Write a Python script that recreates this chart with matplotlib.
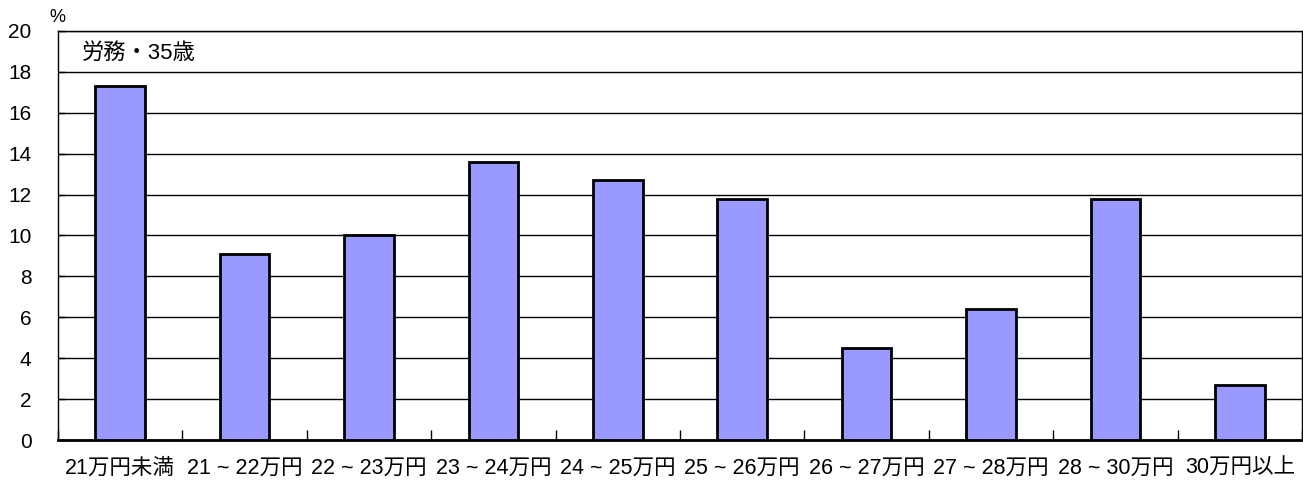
import matplotlib.pyplot as plt
import numpy as np

plt.rcParams['font.family'] = ['Liberation Sans', 'Noto Sans CJK JP', 'DejaVu Sans']

# 賃金階級別の割合（%）
categories = ['21万円未満', '21～22万円', '22～23万円', '23～24万円', '24～25万円',
              '25～26万円', '26～27万円', '27～28万円', '28～30万円', '30万円以上']
shares = [17.3, 9.1, 10.0, 13.6, 12.7, 11.8, 4.5, 6.4, 11.8, 2.7]
yticks = [0, 2, 4, 6, 8, 10, 12, 14, 16, 18, 20]

fig = plt.figure(figsize=(13.03, 4.82), dpi=100)
ax = fig.add_axes([58 / 1303, 42 / 482, 1244 / 1303, 409 / 482])

x = np.arange(len(categories))
ax.bar(x, shares, width=0.4, color='#9999ff', edgecolor='black', linewidth=2, zorder=3)

ax.set_xlim(-0.5, len(categories) - 0.5)
ax.set_ylim(0, 20)
ax.set_yticks(yticks)
ax.set_yticklabels([str(v) for v in yticks], fontsize=15)
ax.yaxis.grid(True, color='black', linewidth=1)
ax.set_axisbelow(True)

# カテゴリ境界に目盛り
ax.set_xticks(np.arange(len(categories) + 1) - 0.5)
ax.set_xticklabels([])
ax.set_xticks(x, minor=True)
ax.set_xticklabels([c.replace('～', ' ~ ') for c in categories], minor=True,
                   fontsize=15.5, family=['Liberation Sans', 'Noto Sans CJK JP'])
ax.tick_params(axis='x', which='major', direction='in', length=7, width=1, color='black')
ax.tick_params(axis='x', which='minor', length=0, pad=13)
ax.tick_params(axis='y', direction='in', length=5, width=1, pad=19)

for side in ['top', 'right', 'left']:
    ax.spines[side].set_linewidth(1)
ax.spines['bottom'].set_linewidth(2)

ax.text(0.0195, 0.945, '労務・35歳', transform=ax.transAxes, fontsize=16,
        va='center', ha='left', family=['Liberation Sans', 'Noto Sans CJK JP'])
fig.text(49 / 1303, 1 - 17 / 482, '%', fontsize=13, ha='left', va='center')

fig.savefig('out.png', dpi=100)
